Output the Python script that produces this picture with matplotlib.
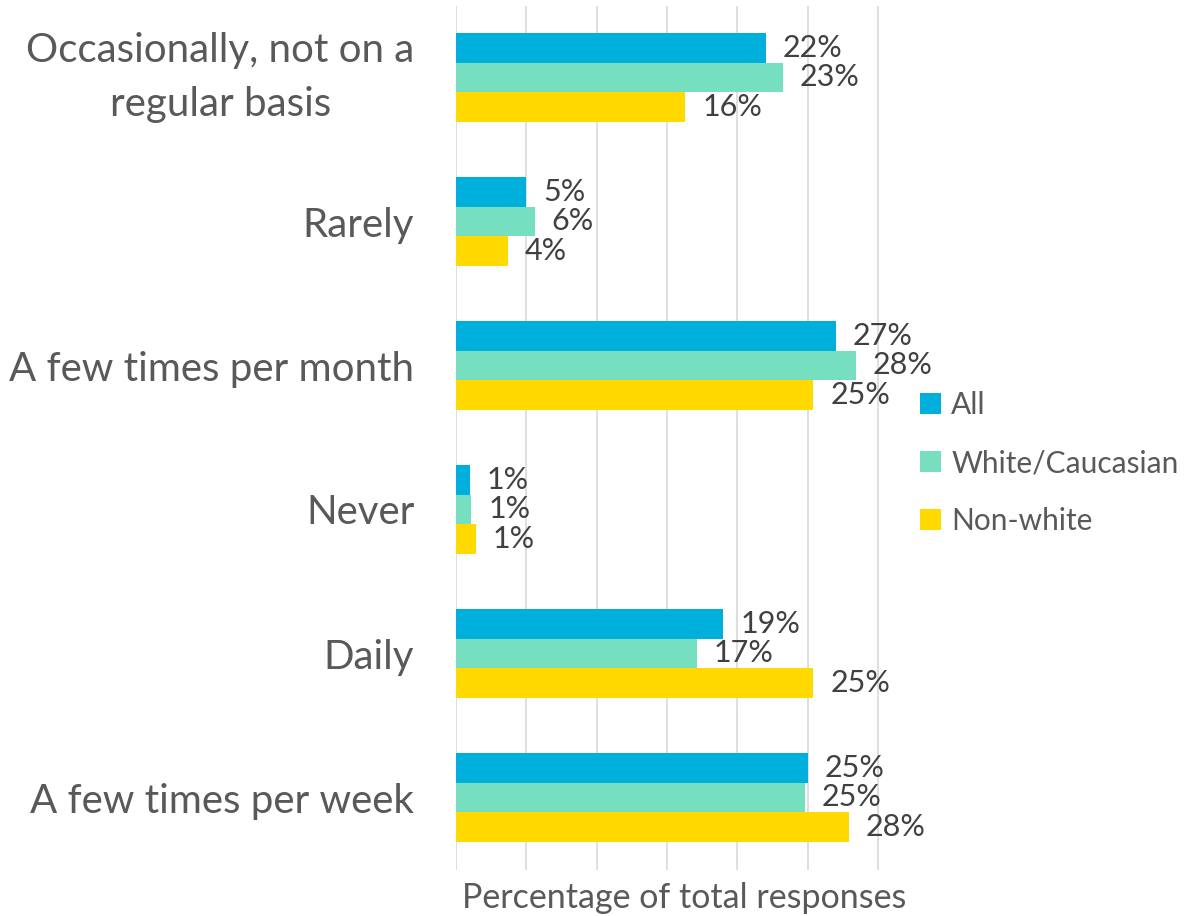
import matplotlib
matplotlib.use("Agg")
import matplotlib.pyplot as plt
import numpy as np

# =========================
# DATA
# =========================
categories = [
    "Occasionally, not on a\nregular basis",
    "Rarely",
    "A few times per month",
    "Never",
    "Daily",
    "A few times per week",
]
all_vals = [22.0, 5.0, 27.0, 1.0, 19.0, 25.0]
white_vals = [23.2, 5.6, 28.4, 1.1, 17.1, 24.8]
nonwhite_vals = [16.3, 3.7, 25.4, 1.4, 25.4, 27.9]
series_names = ["All", "White/Caucasian", "Non-white"]
colors = ["#00B0DC", "#76DFBF", "#FFD900"]

plt.rcParams['font.family'] = ['Lato', 'DejaVu Sans']

# =========================
# FIGURE
# =========================
fig = plt.figure(figsize=(11.99, 9.16), dpi=100)
ax = fig.add_axes([456 / 1199, 1 - 869.5 / 916, (912 - 456) / 1199, (869.5 - 5.5) / 916])

y = np.arange(len(categories))
h = 0.206
series = [all_vals, white_vals, nonwhite_vals]

for i, (vals, name, c) in enumerate(zip(series, series_names, colors)):
    pos = y + (i - 1) * h
    ax.barh(pos, vals, height=h, color=c, label=name, zorder=2)
    for p, v in zip(pos, vals):
        ax.annotate(f"{round(v)}%", xy=(v, p), xytext=(12, 0),
                    textcoords="offset points", va="center", ha="left",
                    fontsize=22, color="#404040")

ax.set_xlim(0, 32.4)
ax.set_ylim(5.5, -0.5)
ax.set_xticks(np.arange(0, 31, 5))
ax.set_yticks(y)
ax.set_yticklabels(categories, fontsize=29, color="#595959",
                   multialignment="center", linespacing=1.55)
# multi-line label: center the whole block on the group
ax.get_yticklabels()[0].set_va("center")
ax.tick_params(axis="x", labelbottom=False, length=0)
ax.tick_params(axis="y", length=0, pad=30)
ax.grid(axis="x", color="#D9D9D9", linewidth=1.2, zorder=0)
for s in ax.spines.values():
    s.set_visible(False)

ax.set_xlabel("Percentage of total responses", fontsize=24.5, color="#595959", labelpad=9)

fig.legend(loc="center left", bbox_to_anchor=(893 / 1199, 1 - 463 / 916),
           frameon=False, fontsize=21.5, labelcolor="#595959",
           handlelength=0.7, handleheight=0.7, handletextpad=0.35,
           labelspacing=1.0)

fig.savefig("out.png", dpi=100)
